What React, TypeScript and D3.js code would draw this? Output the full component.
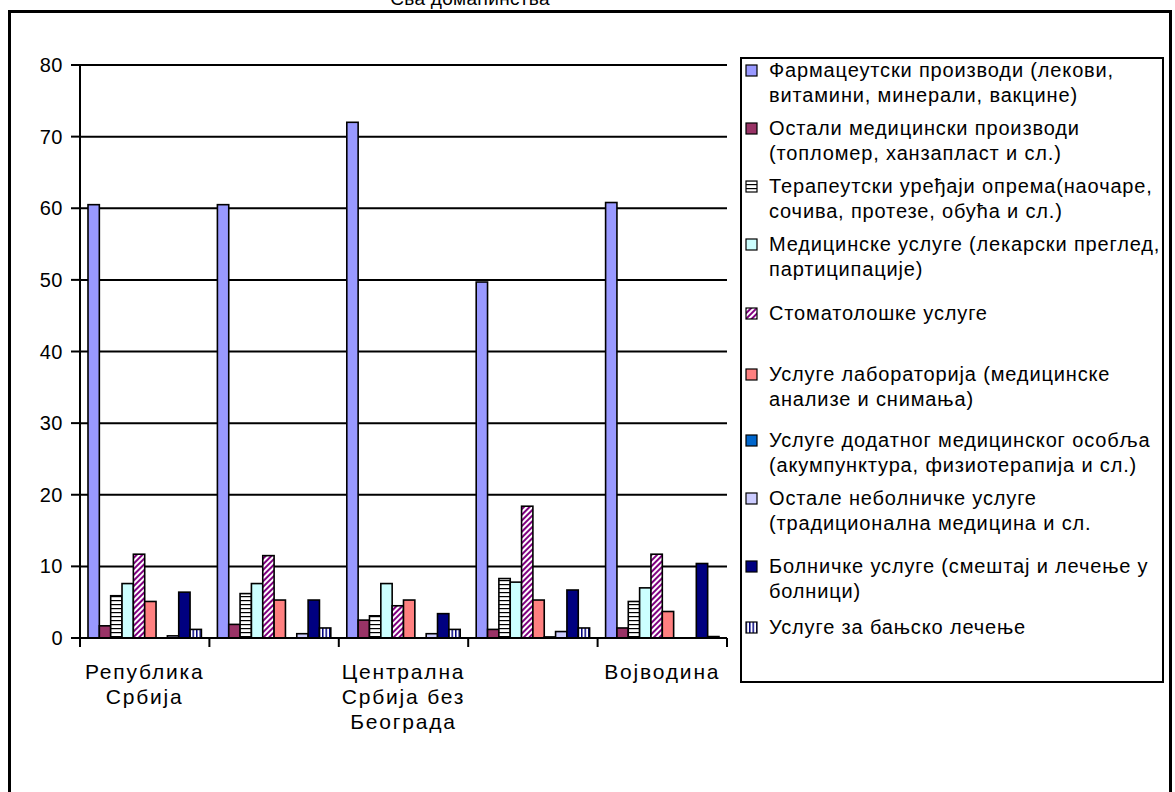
import React from "react";
import * as d3 from "d3";

const categories = [
  "Република Србија",
  "Централна Србија",
  "Централна Србија без Београда",
  "Београд",
  "Војводина",
];
const tickLabels: string[][] = [
  ["Република", "Србија"],
  [],
  ["Централна", "Србија без", "Београда"],
  [],
  ["Војводина"],
];
const seriesNames: string[][] = [
  ["Фармацеутски производи (лекови,", "витамини, минерали, вакцине)"],
  ["Остали медицински производи", "(топломер, ханзапласт и сл.)"],
  ["Терапеутски уређаји опрема(наочаре,", "сочива, протезе, обућа и сл.)"],
  ["Медицинске услуге (лекарски преглед,", "партиципације)"],
  ["Стоматолошке услуге"],
  ["Услуге лабораторија (медицинске", "анализе и снимања)"],
  ["Услуге додатног медицинског особља", "(акумпунктура, физиотерапија и сл.)"],
  ["Остале неболничке услуге", "(традиционална медицина и сл."],
  ["Болничке услуге (смештај и лечење у", "болници)"],
  ["Услуге за бањско лечење"],
];
const pharma = [60.5, 60.5, 72.0, 49.7, 60.8];
const otherMed = [1.7, 1.9, 2.5, 1.2, 1.4];
const therapeutic = [5.9, 6.2, 3.1, 8.3, 5.1];
const medServices = [7.6, 7.6, 7.6, 7.8, 7.0];
const dental = [11.7, 11.5, 4.5, 18.4, 11.7];
const lab = [5.1, 5.3, 5.3, 5.3, 3.7];
const additional = [0, 0, 0, 0.15, 0];
const otherNonHosp = [0.3, 0.6, 0.6, 0.9, 0];
const hospital = [6.4, 5.3, 3.4, 6.7, 10.4];
const spa = [1.2, 1.4, 1.2, 1.4, 0.2];
const yTicks = [0, 10, 20, 30, 40, 50, 60, 70, 80];
const title = "Сва домаћинства";

const seriesValues = [pharma, otherMed, therapeutic, medServices, dental, lab, additional, otherNonHosp, hospital, spa];
const fills = [
  "#9999FF",
  "#993366",
  "url(#hlines)",
  "#CCFFFF",
  "url(#diag)",
  "#FF8080",
  "#0066CC",
  "#CCCCFF",
  "#000080",
  "url(#vlines)",
];
// legend first-line baselines (layout)
const legendY = [77, 135, 193, 251, 320, 381, 447, 505, 573, 634];

const FONT = "'Liberation Sans', Arial, sans-serif";

export default function App() {
  const plotL = 80, plotR = 727, plotT = 65, plotB = 638;
  const x = d3.scaleBand<number>().domain(d3.range(categories.length)).range([plotL, plotR]);
  const inner = d3
    .scaleBand<number>()
    .domain(d3.range(seriesValues.length))
    .range([8, x.bandwidth() - 8]);
  const y = d3.scaleLinear().domain([0, 80]).range([plotB, plotT]);

  return (
    <svg
      width={1175}
      height={792}
      style={{ position: "absolute", left: 0, top: 0, background: "#fff" }}
      fontFamily={FONT}
    >
      <defs>
        <pattern id="hlines" width="4" height="4" patternUnits="userSpaceOnUse">
          <rect width="4" height="4" fill="#fff" />
          <rect y="0" width="4" height="1.2" fill="#000" />
        </pattern>
        <pattern id="vlines" width="3.5" height="4" patternUnits="userSpaceOnUse">
          <rect width="3.5" height="4" fill="#fff" />
          <rect x="0" width="1.5" height="4" fill="#000080" />
        </pattern>
        <pattern id="diag" width="4" height="4" patternUnits="userSpaceOnUse" patternTransform="rotate(45)">
          <rect width="4" height="4" fill="#fff" />
          <rect width="2" height="4" fill="#800080" />
        </pattern>
      </defs>
      <rect x={0} y={0} width={1175} height={792} fill="#fff" />
      <text x={470} y={5} fontSize={19} letterSpacing={0.3} textAnchor="middle">
        {title}
      </text>
      <rect x={9.5} y={11.5} width={1161} height={800} fill="none" stroke="#000" strokeWidth={3} />

      {/* gridlines */}
      {yTicks.map((t) => (
        <g key={t}>
          {t > 0 && <line x1={plotL} x2={plotR} y1={y(t)} y2={y(t)} stroke="#000" strokeWidth={2} />}
          <line x1={plotL - 9} x2={plotL} y1={y(t)} y2={y(t)} stroke="#000" strokeWidth={2} />
          <text x={63} y={y(t) + 7} fontSize={20} letterSpacing={0.5} textAnchor="end">
            {t}
          </text>
        </g>
      ))}

      {/* bars */}
      {seriesValues.map((vals, s) => (
        <g key={s}>
          {vals.map((v, i) =>
            v > 0 ? (
              <rect
                key={i}
                x={(x(i) as number) + (inner(s) as number)}
                y={y(v)}
                width={inner.bandwidth()}
                height={plotB - y(v)}
                fill={fills[s]}
                stroke="#000"
                strokeWidth={1.6}
              />
            ) : null
          )}
        </g>
      ))}

      {/* axes */}
      <line x1={plotL} x2={plotL} y1={plotT} y2={plotB} stroke="#000" strokeWidth={2} />
      <line x1={plotL} x2={plotR} y1={plotB} y2={plotB} stroke="#000" strokeWidth={2} />
      {d3.range(categories.length + 1).map((i) => {
        const xx = i < categories.length ? (x(i) as number) : plotR;
        return <line key={i} x1={xx} x2={xx} y1={plotB} y2={plotB + 9} stroke="#000" strokeWidth={2} />;
      })}
      {tickLabels.map((lines, i) => (
        <text key={i} fontSize={21} letterSpacing={1.8} textAnchor="middle">
          {lines.map((l, j) => (
            <tspan key={j} x={(x(i) as number) + x.bandwidth() / 2} y={679 + j * 25}>
              {l}
            </tspan>
          ))}
        </text>
      ))}

      {/* legend */}
      <rect x={741} y={58} width={422} height={624} fill="#fff" stroke="#000" strokeWidth={2} />
      {seriesNames.map((lines, s) => (
        <g key={s}>
          <rect x={746} y={legendY[s] - 12} width={11} height={11} fill={fills[s]} stroke="#000" strokeWidth={1.2} />
          <text fontSize={20} letterSpacing={0.85}>
            {lines.map((l, j) => (
              <tspan key={j} x={769} y={legendY[s] + j * 24.5}>
                {l}
              </tspan>
            ))}
          </text>
        </g>
      ))}
    </svg>
  );
}
